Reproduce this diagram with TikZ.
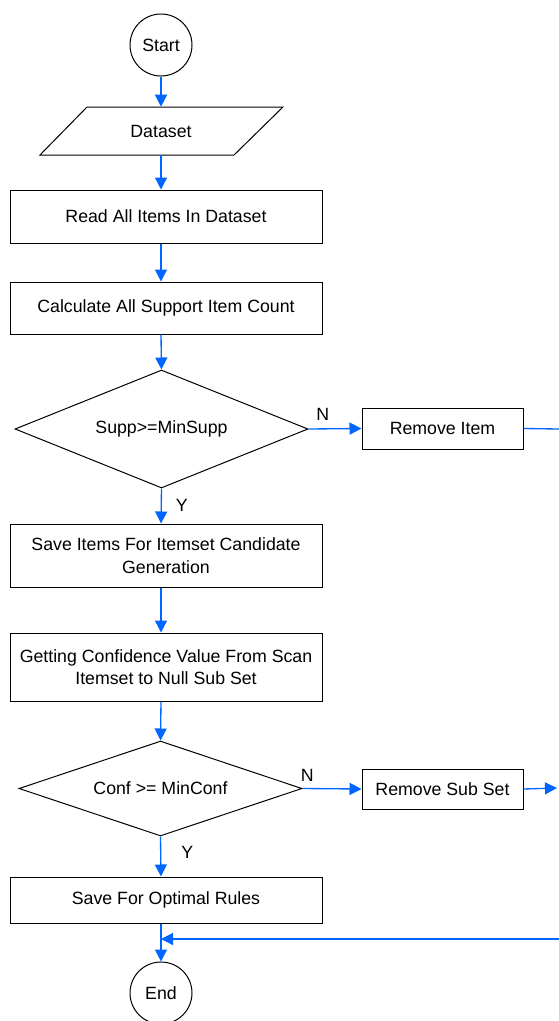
\documentclass[tikz,border=0pt]{standalone}
\usepackage{fontspec}
\setmainfont{Liberation Sans}
\usetikzlibrary{arrows.meta,shapes.geometric,calc}
\definecolor{flowblue}{RGB}{0,102,255}
\tikzset{
  every node/.style={font=\fontsize{13.3}{17}\selectfont, inner sep=0pt, align=center},
  outline/.style={draw=black, line width=0.75pt},
  procbox/.style={outline, rectangle, minimum width=234pt},
  sidebox/.style={outline, rectangle, minimum width=120.75pt},
  termnode/.style={outline, circle, minimum size=46.5pt},
  decision/.style={outline, diamond},
  flow/.style={draw=flowblue, line width=1pt, -{Triangle[length=9pt,width=9pt]}},
  flowline/.style={draw=flowblue, line width=1pt},
  lab/.style={font=\fontsize{13.3}{17}\selectfont}
}
\begin{document}
\begin{tikzpicture}[x=0.75pt,y=-0.75pt]
\useasboundingbox (0,0) rectangle (559,1021);
% nodes
\node[termnode] (start) at (161,45) {Start};
\node[minimum width=147pt, minimum height=36pt] (dataset) at (161,131) {Dataset};
\draw[outline] ($(dataset.center)+(-74,-24)$) -- ($(dataset.center)+(122,-24)$) -- ($(dataset.center)+(73,24)$) -- ($(dataset.center)+(-121,24)$) -- cycle;
\node[procbox, minimum height=39.75pt] (read) at (166,216.5) {Read All Items In Dataset};
\node[procbox, minimum height=39pt] (calc) at (166,308) {Calculate All Support Item Count};
\node[decision, shape aspect=2.5, minimum width=219.75pt, minimum height=88.5pt] (supp) at (161.5,429) {Supp>=MinSupp};
\node[sidebox, minimum height=30.75pt] (remitem) at (442.5,428.5) {Remove Item};
\node[procbox, minimum height=47.25pt] (saveitems) at (166,555.5) {Save Items For Itemset Candidate\\Generation};
\node[procbox, minimum height=51pt] (getting) at (166,667) {Getting Confidence Value From Scan\\Itemset to Null Sub Set};
\node[decision, shape aspect=3, minimum width=212.25pt, minimum height=71.25pt] (conf) at (160.5,788.5) {Conf >= MinConf};
\node[sidebox, minimum height=30pt] (remsub) at (442.5,789) {Remove Sub Set};
\node[procbox, minimum height=34.5pt] (saveopt) at (166,900) {Save For Optimal Rules};
\node[termnode] (endc) at (161,993) {End};
% edge coordinates
\coordinate (edgeA) at (559,429);
\coordinate (edgeB) at (557,788);
\coordinate (edgeC) at (559,939);
% connectors
\draw[flow] (start) -- (dataset.north -| start);
\draw[flow] (dataset.south -| start) -- (read.north -| start);
\draw[flow] (read.south -| start) -- (calc.north -| start);
\draw[flow] (calc.south -| start) -- (supp.north);
\draw[flow] (supp.south) -- (saveitems.north -| start) node[lab, pos=0.47, right=10.5pt] {Y};
\draw[flow] (supp.east) -- (remitem.west) node[lab, pos=0.27, above=6pt] {N};
\draw[flowline] (remitem.east) -- (edgeA);
\draw[flow] (saveitems.south -| start) -- (getting.north -| start);
\draw[flow] (getting.south -| start) -- (conf.north);
\draw[flow] (conf.south) -- (saveopt.north -| start) node[lab, pos=0.39, right=15pt] {Y};
\draw[flow] (conf.east) -- (remsub.west) node[lab, pos=0.08, above=5pt] {N};
\draw[flow] (remsub.east) -- (edgeB);
\draw[flow] (saveopt.south -| start) -- (endc.north);
\draw[flow] (edgeC) -- (edgeC -| start);
\end{tikzpicture}
\end{document}
